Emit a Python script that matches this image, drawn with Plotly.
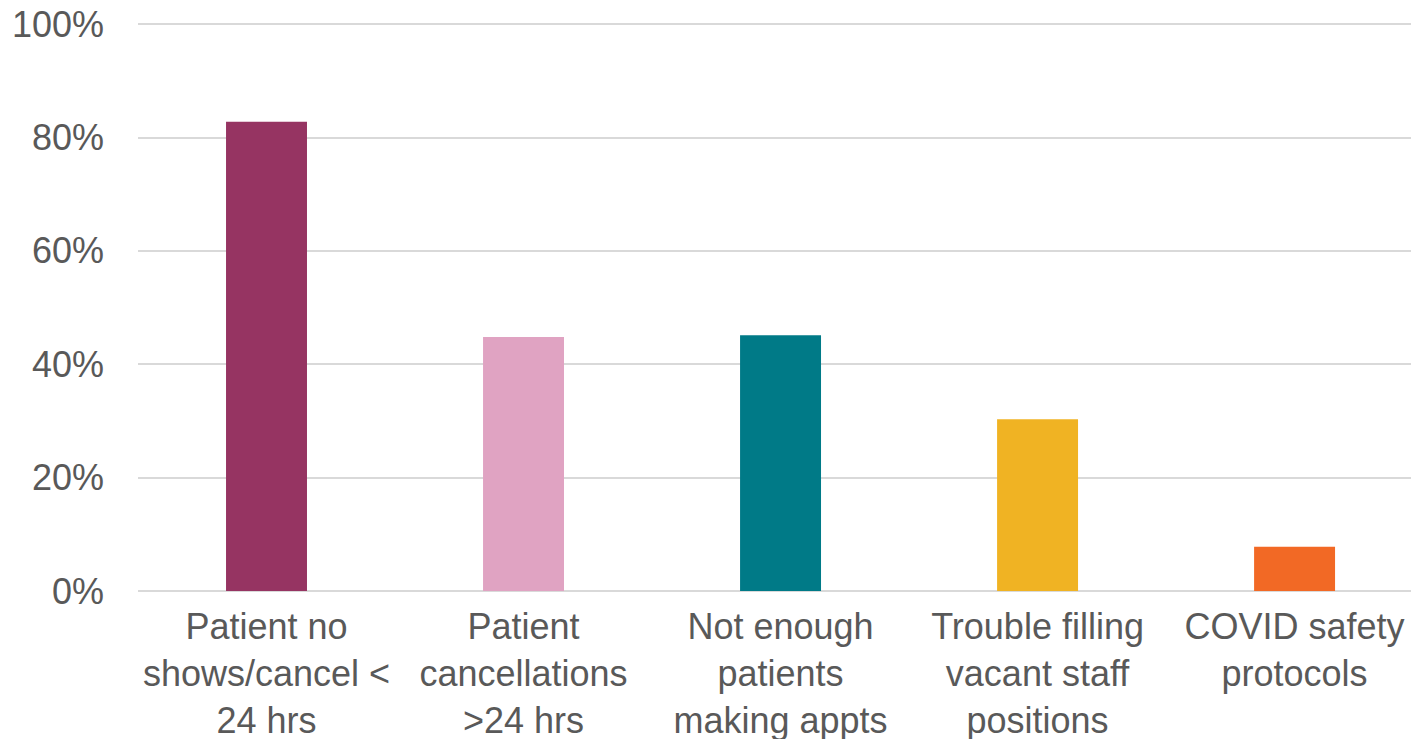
import plotly.graph_objects as go

categories = [
    "Patient no<br>shows/cancel &lt;<br>24 hrs",
    "Patient<br>cancellations<br>&gt;24 hrs",
    "Not enough<br>patients<br>making appts",
    "Trouble filling<br>vacant staff<br>positions",
    "COVID safety<br>protocols",
]
values = [82.8, 44.8, 45.1, 30.3, 7.8]
colors = ["#963462", "#E0A3C2", "#007A87", "#F0B323", "#F26925"]
y_ticks = [0, 20, 40, 60, 80, 100]
y_labels = ["0%", "20%", "40%", "60%", "80%", "100%"]

fig = go.Figure(go.Bar(x=categories, y=values, marker_color=colors, marker_line_width=0))

font = dict(family="Liberation Sans, Arial, sans-serif", size=36, color="#595959")
fig.update_layout(
    width=1411, height=739,
    margin=dict(l=138, r=0, t=23, b=148),
    plot_bgcolor="white", paper_bgcolor="white",
    bargap=0.685,
    font=font,
    showlegend=False,
)
fig.update_xaxes(showgrid=False, showline=False, ticks="", tickfont=font,
                 range=[-0.5, 4.453],
                 ticklabelstandoff=11, automargin=False)
fig.update_yaxes(range=[0, 100.2], tickvals=y_ticks, ticktext=y_labels,
                 showgrid=True, gridcolor="#D9D9D9", gridwidth=1.5,
                 zeroline=True, zerolinecolor="#D9D9D9", zerolinewidth=1.5,
                 showline=False, ticks="", tickfont=font, ticklabelstandoff=33,
                 automargin=False)

fig.write_html("out.html", config={"displayModeBar": False},
               post_script="document.body.style.margin='0px';")
